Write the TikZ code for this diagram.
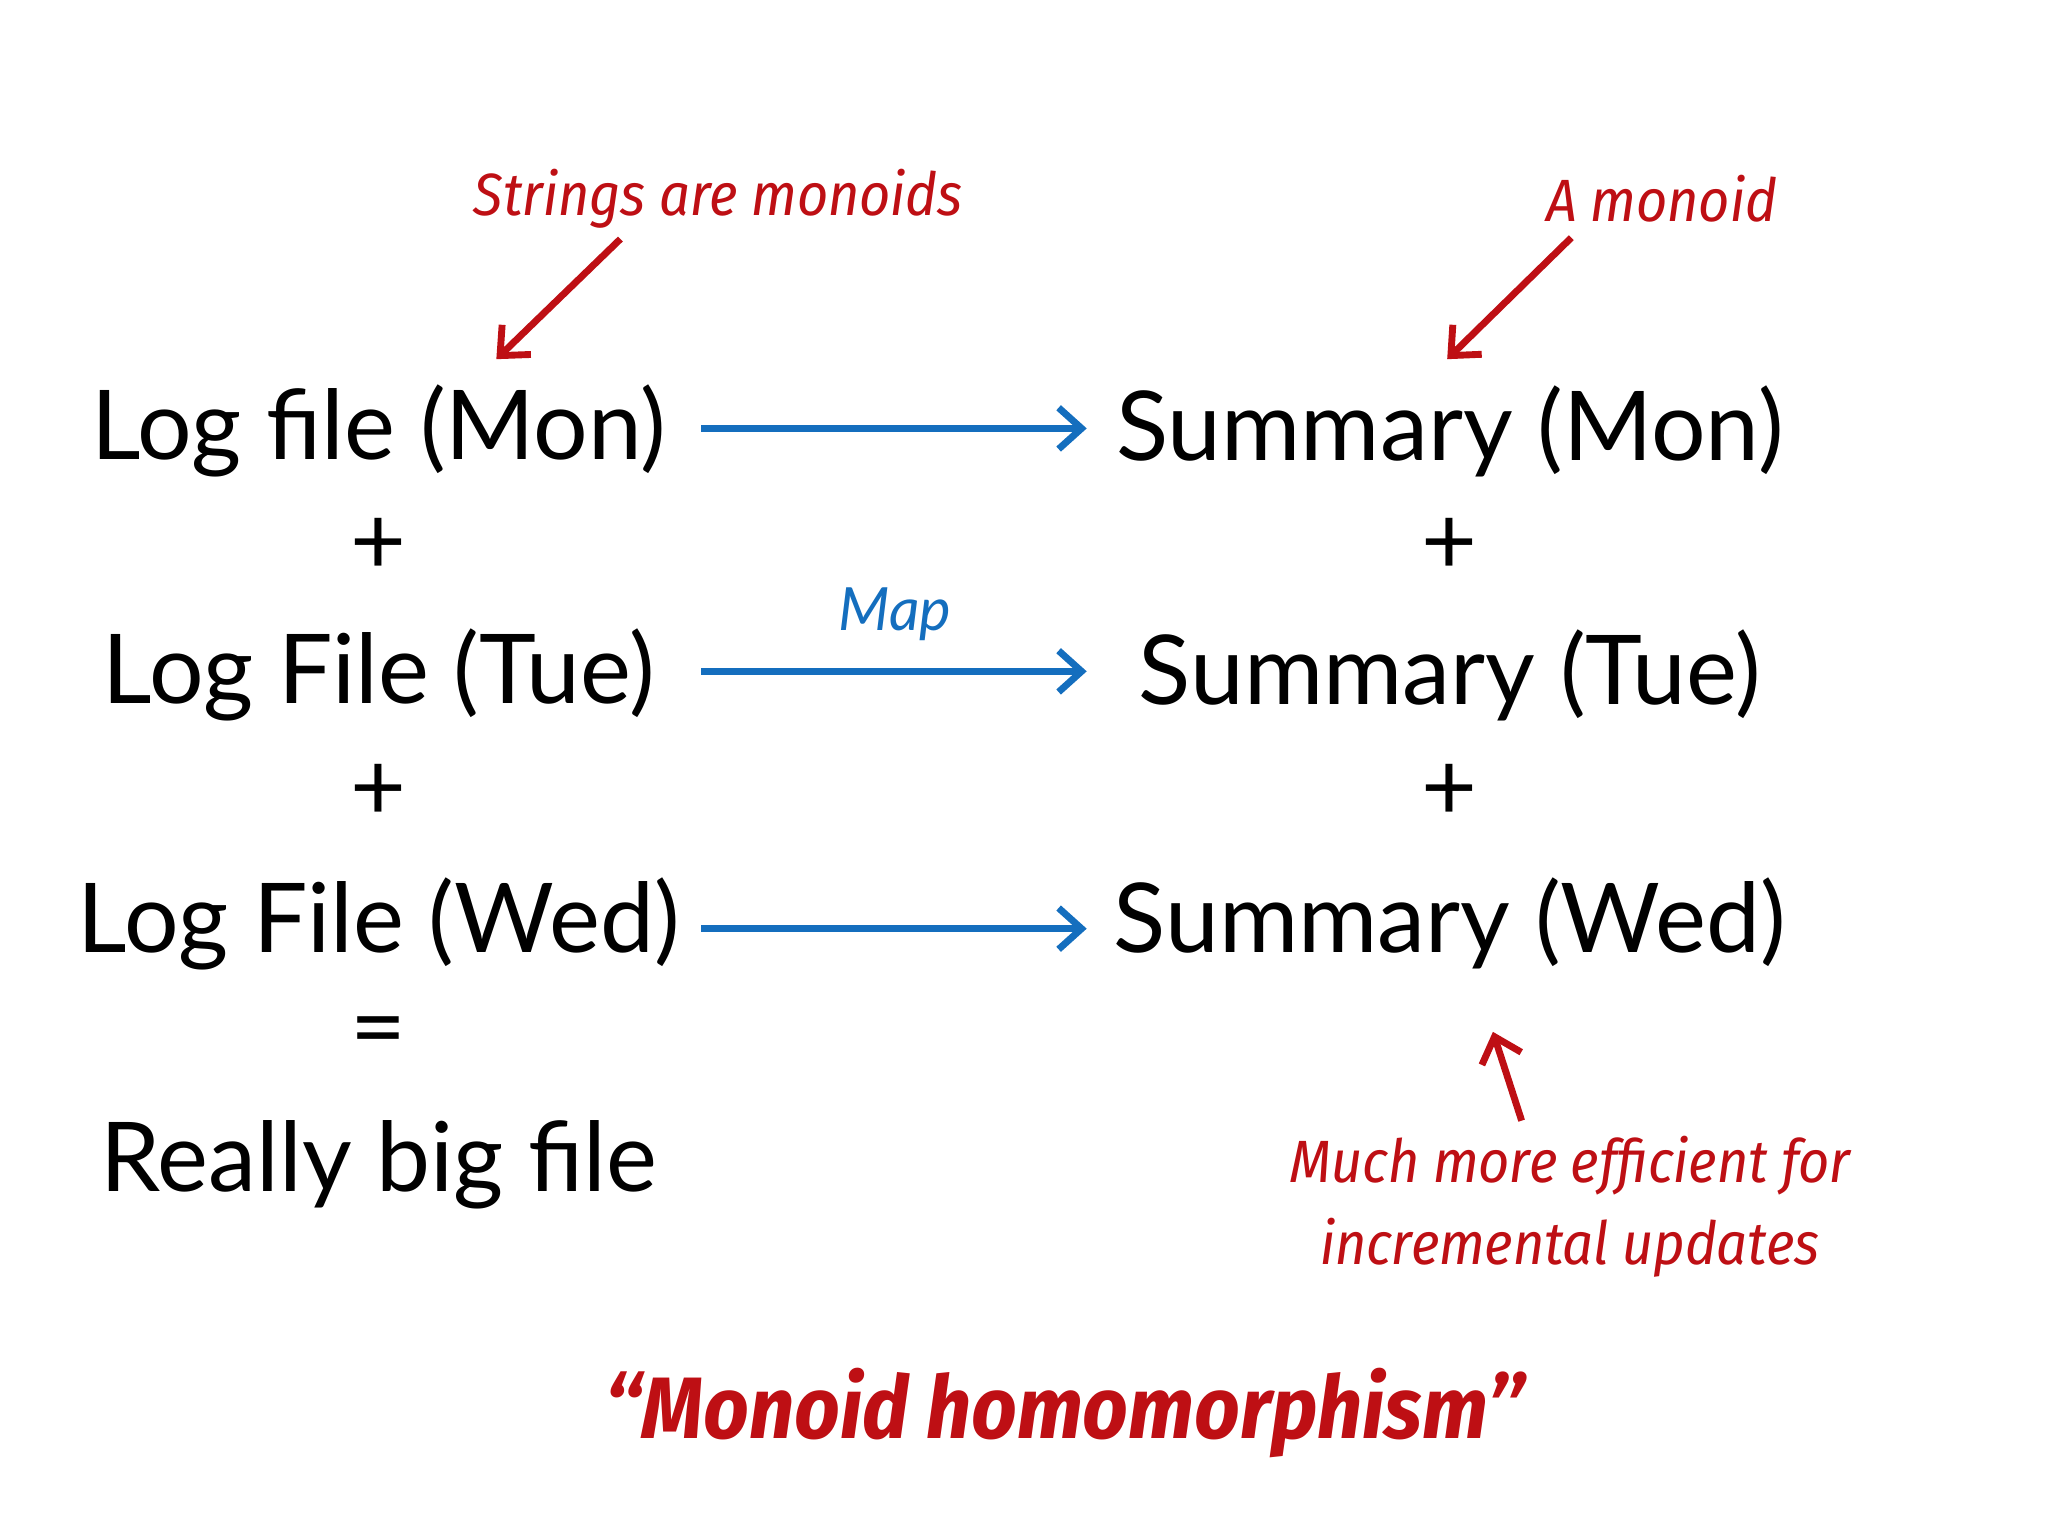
\documentclass[tikz,border=0pt]{standalone}
\usepackage{fontspec}
\setmainfont{Lato}
\newfontfamily\hand{Fira Sans Condensed}
\usetikzlibrary{arrows.meta}
\definecolor{bl}{RGB}{20,110,190}
\definecolor{rd}{RGB}{190,15,20}
\begin{document}
\begin{tikzpicture}[x=0.02cm,y=-0.02cm,
  big/.style={font=\fontsize{42}{46}\selectfont,text=black,inner sep=0pt},
  note/.style={font=\hand\itshape\fontsize{26}{32}\selectfont,text=rd,inner sep=0pt,align=center},
  maparrow/.style={draw=bl,line width=3pt,-{Straight Barb[length=10pt,width=18pt,line width=3pt]}},
  redarrow/.style={draw=rd,line width=3pt,-{Straight Barb[length=10pt,width=18pt,line width=3pt]}}]
\useasboundingbox (0,0) rectangle (1568,1176);
\node[big] (l1) at (290,330) {Log file (Mon)};
\node[big] (p1) at (290,418) {+};
\node[big] (l2) at (290,517) {Log File (Tue)};
\node[big] (p2) at (290,607) {+};
\node[big] (l3) at (290,707) {Log File (Wed)};
\node[big] (eq) at (290,795) {=};
\node[big] (rb) at (290,892) {Really big file};
\node[big] (s1) at (1110,330) {Summary (Mon)};
\node[big] (q1) at (1110,418) {+};
\node[big] (s2) at (1110,517) {Summary (Tue)};
\node[big] (q2) at (1110,607) {+};
\node[big] (s3) at (1110,707) {Summary (Wed)};
\coordinate (a1s) at (537,328); \coordinate (a1e) at (832,328);
\coordinate (a2s) at (537,514); \coordinate (a2e) at (832,514);
\coordinate (a3s) at (537,711); \coordinate (a3e) at (832,711);
\draw[maparrow] (a1s) -- (a1e);
\draw[maparrow] (a2s) -- (a2e);
\draw[maparrow] (a3s) -- (a3e);
\node[font=\itshape\fontsize{26}{30}\selectfont,text=bl,inner sep=0pt] (map) at (685,470) {Map};
\node[note] (n1) at (550,152) {Strings are monoids};
\node[note] (n2) at (1272,152) {A monoid};
\coordinate (n1s) at (475,183); \coordinate (n1e) at (380,275);
\coordinate (n2s) at (1203,182); \coordinate (n2e) at (1108,275);
\draw[redarrow] (n1s) -- (n1e);
\draw[redarrow] (n2s) -- (n2e);
\node[note] (n3) at (1202,924) {Much more efficient for\\[4pt]incremental updates};
\coordinate (n3s) at (1165,858); \coordinate (n3e) at (1143,790);
\draw[redarrow] (n3s) -- (n3e);
\node[font=\hand\bfseries\itshape\fontsize{38}{44}\selectfont,text=rd,inner sep=0pt] (mh) at (815,1082) {“Monoid homomorphism”};
\end{tikzpicture}
\end{document}
